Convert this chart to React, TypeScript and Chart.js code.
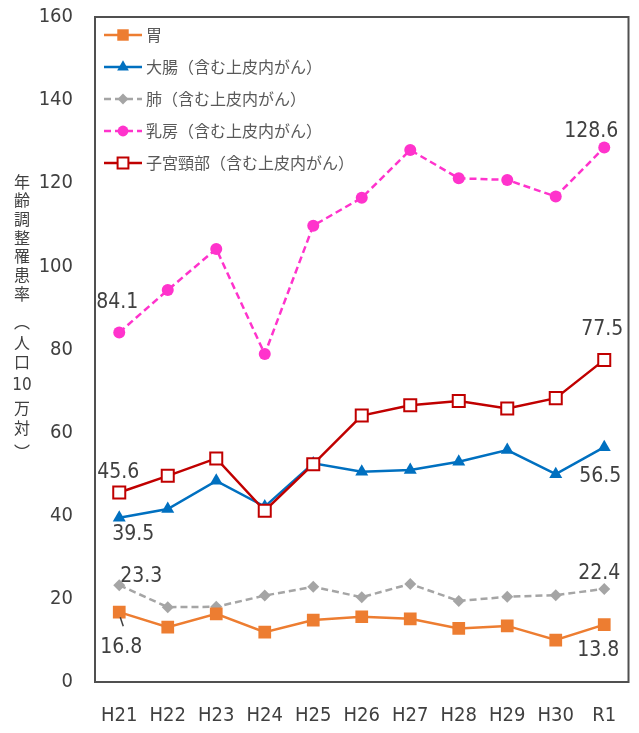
import React, { useEffect, useRef } from "react";
import { Chart, registerables } from "chart.js";

Chart.register(...registerables);

// ---- Data ----
const categories = ["H21", "H22", "H23", "H24", "H25", "H26", "H27", "H28", "H29", "H30", "R1"];
const stomach = [16.8, 13.2, 16.4, 12.0, 14.9, 15.7, 15.2, 12.9, 13.5, 10.1, 13.8];
const colon = [39.5, 41.6, 48.4, 42.2, 52.6, 50.6, 51.0, 53.0, 55.8, 50.0, 56.5];
const lung = [23.3, 18.0, 18.1, 20.8, 22.9, 20.4, 23.6, 19.5, 20.5, 20.9, 22.4];
const breast = [84.1, 94.3, 104.2, 78.9, 109.8, 116.5, 128.0, 121.2, 120.8, 116.8, 128.6];
const cervix = [45.6, 49.6, 53.8, 41.2, 52.4, 64.1, 66.6, 67.6, 65.8, 68.3, 77.5];
const seriesNames = [
  "胃",
  "大腸（含む上皮内がん）",
  "肺（含む上皮内がん）",
  "乳房（含む上皮内がん）",
  "子宮頸部（含む上皮内がん）",
];
const yMin = 0;
const yMax = 160;
const yStep = 20;
const yTitleParts = ["年", "齢", "調", "整", "罹", "患", "率", "︵", "人", "口", "10", "万", "対", "︶"];

// which points get value labels: [datasetIndex, pointIndex, dx, dy]
const labelSpecs: [number, number, number, number][] = [
  [3, 0, -2, -30],
  [3, 10, -13, -16],
  [4, 0, -1, -20],
  [4, 10, -2, -30],
  [1, 0, 14, 17],
  [1, 10, -4, 29],
  [2, 0, 22, -9],
  [2, 10, -5, -15],
  [0, 0, 2, 35],
  [0, 10, -6, 26],
];

const NARROW = "'Liberation Sans Narrow', 'DejaVu Sans Condensed', 'Liberation Sans', sans-serif";
const CJK = "'Noto Sans CJK JP', 'Noto Sans', sans-serif";
const TEXT = "#404040";

function drawMarker(ctx: CanvasRenderingContext2D, style: string, x: number, y: number, r: number, fill: string, stroke: string, lw: number) {
  ctx.save();
  ctx.setLineDash([]);
  ctx.fillStyle = fill;
  ctx.strokeStyle = stroke;
  ctx.lineWidth = lw;
  ctx.beginPath();
  if (style === "rect") {
    const s = r * Math.SQRT1_2;
    ctx.rect(x - s, y - s, 2 * s, 2 * s);
  } else if (style === "triangle") {
    ctx.moveTo(x, y - r);
    ctx.lineTo(x + r * 0.866, y + r * 0.5);
    ctx.lineTo(x - r * 0.866, y + r * 0.5);
    ctx.closePath();
  } else if (style === "rectRot") {
    ctx.moveTo(x, y - r);
    ctx.lineTo(x + r, y);
    ctx.lineTo(x, y + r);
    ctx.lineTo(x - r, y);
    ctx.closePath();
  } else {
    ctx.arc(x, y, r, 0, Math.PI * 2);
  }
  ctx.fill();
  if (lw > 0) ctx.stroke();
  ctx.restore();
}

const customPlugin = {
  id: "customDecor",
  afterDraw(chart: any) {
    const { ctx, chartArea: ca } = chart;
    ctx.save();

    // plot frame
    ctx.strokeStyle = "#505050";
    ctx.lineWidth = 2;
    ctx.setLineDash([]);
    ctx.strokeRect(ca.left, ca.top, ca.right - ca.left, ca.bottom - ca.top);

    // value labels
    ctx.fillStyle = TEXT;
    ctx.font = `21px ${NARROW}`;
    ctx.textAlign = "center";
    ctx.textBaseline = "middle";
    labelSpecs.forEach(([di, pi, dx, dy]) => {
      const el = chart.getDatasetMeta(di).data[pi];
      const v = chart.data.datasets[di].data[pi] as number;
      ctx.fillText(v.toFixed(1), el.x + dx, el.y + dy);
    });
    // leader line for stomach first label
    {
      const el = chart.getDatasetMeta(0).data[0];
      ctx.strokeStyle = TEXT;
      ctx.lineWidth = 1.5;
      ctx.beginPath();
      ctx.moveTo(el.x + 1, el.y + 5);
      ctx.lineTo(el.x + 4, el.y + 14);
      ctx.stroke();
    }

    // legend
    ctx.font = `16px ${CJK}`;
    ctx.textAlign = "left";
    ctx.textBaseline = "middle";
    chart.data.datasets.forEach((ds: any, i: number) => {
      const y = ca.top + 18 + i * 32;
      const x0 = ca.left + 9;
      const x1 = ca.left + 47;
      ctx.save();
      ctx.strokeStyle = ds.borderColor;
      ctx.lineWidth = ds.borderWidth;
      ctx.setLineDash(ds.borderDash || []);
      ctx.beginPath();
      ctx.moveTo(x0, y);
      ctx.lineTo(x1, y);
      ctx.stroke();
      ctx.restore();
      drawMarker(ctx, ds.pointStyle, (x0 + x1) / 2, y, ds.pointRadius * 0.9, ds.pointBackgroundColor, ds.pointBorderColor, ds.pointBorderWidth);
      ctx.fillStyle = "#595959";
      ctx.fillText(ds.label, ca.left + 51, y);
    });

    // y-axis title (vertical, upright)
    ctx.fillStyle = TEXT;
    ctx.textAlign = "center";
    ctx.textBaseline = "middle";
    const ys = [182, 200, 219, 238, 256, 275, 294, 322, 343, 362, 386, 408, 428, 452];
    yTitleParts.forEach((ch, i) => {
      ctx.font = ch === "10" ? `17px ${NARROW}` : `16px ${CJK}`;
      ctx.fillText(ch, 22, ys[i]);
    });

    ctx.restore();
  },
};

export default function App() {
  const ref = useRef<HTMLCanvasElement>(null);

  useEffect(() => {
    if (!ref.current) return;
    const mk = (label: string, data: number[], color: string, style: string, r: number, dash: number[], fill: string, order: number, bw = 2.5) => ({
      label,
      data,
      borderColor: color,
      backgroundColor: color,
      borderWidth: bw,
      borderDash: dash,
      pointStyle: style,
      pointRadius: r,
      pointHoverRadius: r,
      pointBackgroundColor: fill,
      pointBorderColor: color,
      pointBorderWidth: fill === "#ffffff" ? 2 : 0,
      tension: 0,
      fill: false,
      order,
    });
    const chart = new Chart(ref.current, {
      type: "line",
      data: {
        labels: categories,
        datasets: [
          mk(seriesNames[0], stomach, "#ED7D31", "rect", 9, [], "#ED7D31", 3),
          mk(seriesNames[1], colon, "#0070C0", "triangle", 7.5, [], "#0070C0", 2),
          mk(seriesNames[2], lung, "#A5A5A5", "rectRot", 6, [7, 4], "#A5A5A5", 4),
          mk(seriesNames[3], breast, "#FF33CC", "circle", 6, [7, 4], "#FF33CC", 5),
          mk(seriesNames[4], cervix, "#C00000", "rect", 8.5, [], "#ffffff", 1),
        ] as any,
      },
      options: {
        responsive: false,
        animation: false,
        events: [],
        layout: { padding: { top: 17, right: 3, left: 0, bottom: 0 } },
        plugins: {
          legend: { display: false },
          tooltip: { enabled: false },
          title: { display: false },
        },
        scales: {
          x: {
            type: "category",
            offset: true,
            grid: { display: false, drawTicks: false },
            border: { display: false },
            ticks: {
              color: TEXT,
              font: { family: NARROW, size: 20 },
              padding: 22,
              maxRotation: 0,
              autoSkip: false,
            },
            afterFit: (s: any) => {
              s.height = 51;
              s.paddingLeft = 0;
              s.paddingRight = 0;
            },
          },
          y: {
            min: yMin,
            max: yMax,
            grid: { display: false, drawTicks: false },
            border: { display: false },
            ticks: {
              stepSize: yStep,
              color: TEXT,
              font: { family: NARROW, size: 20 },
              padding: 22,
            },
            afterFit: (s: any) => {
              s.width = 95;
              s.paddingTop = 0;
              s.paddingBottom = 0;
            },
          },
        },
      },
      plugins: [customPlugin],
    } as any);
    return () => chart.destroy();
  }, []);

  return (
    <div style={{ position: "absolute", left: 0, top: 0, width: 639, height: 733, background: "#fff" }}>
      <canvas ref={ref} width={639} height={733} style={{ display: "block" }} />
    </div>
  );
}
